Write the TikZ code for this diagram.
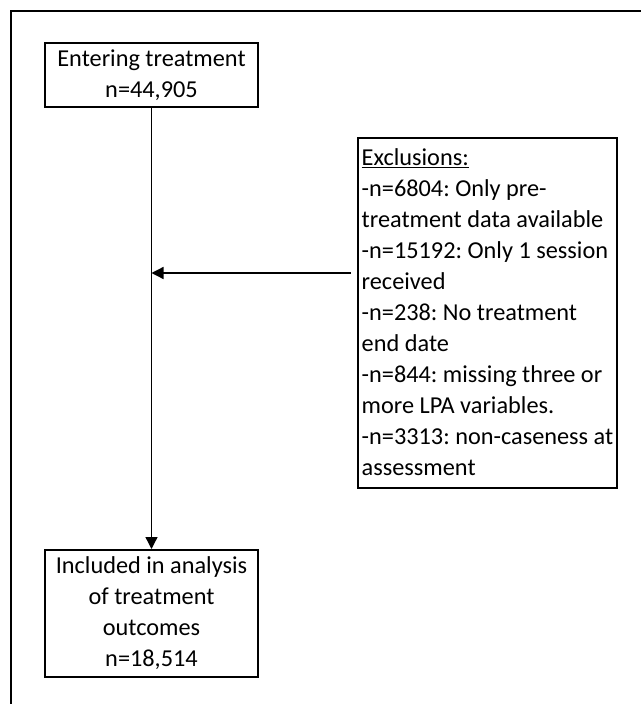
\documentclass[tikz,border=0pt]{standalone}
\usepackage{fontspec}
\setmainfont{Carlito}
\frenchspacing
\usetikzlibrary{arrows.meta}

\tikzset{
    flowbox/.style={draw, line width=2pt, inner sep=4pt, align=center,
        font=\fontsize{24.3}{31}\selectfont},
    flowarrow/.style={line width=1.3pt, -{Triangle[length=12pt, width=12pt]}}
}

\begin{document}
\begin{tikzpicture}[x=1pt, y=1pt]
    \useasboundingbox (0,0) rectangle (641,-704);

    % outer frame (only top and left edge inside the picture)
    \draw[line width=2.4pt] (11,-704) -- (11,-11) -- (641,-11);

    % Entering block
    \node[flowbox, minimum width=213pt, minimum height=64pt] (entering) at (151.5,-75) {
        Entering treatment\\
        n=44,905
    };

    % Included block
    \node[flowbox, minimum width=213pt, minimum height=127pt] (included) at (151.5,-613.5) {
        Included in analysis\\
        of treatment\\
        outcomes\\
        n=18,514
    };

    % Exclusions block
    \node[flowbox, align=left, minimum width=259pt, minimum height=350pt] (exclusions) at (487.5,-312.5) {
        \underline{Exclusions:}\\
        -n=6804: Only pre-\\
        treatment data available\\
        -n=15192: Only 1 session\\
        received\\
        -n=238: No treatment\\
        end date\\
        -n=844: missing three or\\
        more LPA variables.\\
        -n=3313: non-caseness at\\
        assessment
    };

    % Connections
    \coordinate (join) at (entering.south |- 0,-273);
    \draw[flowarrow] (entering) -- (included);
    \draw[flowarrow] ([xshift=-6pt]exclusions.west |- join) -- (join);
\end{tikzpicture}
\end{document}
